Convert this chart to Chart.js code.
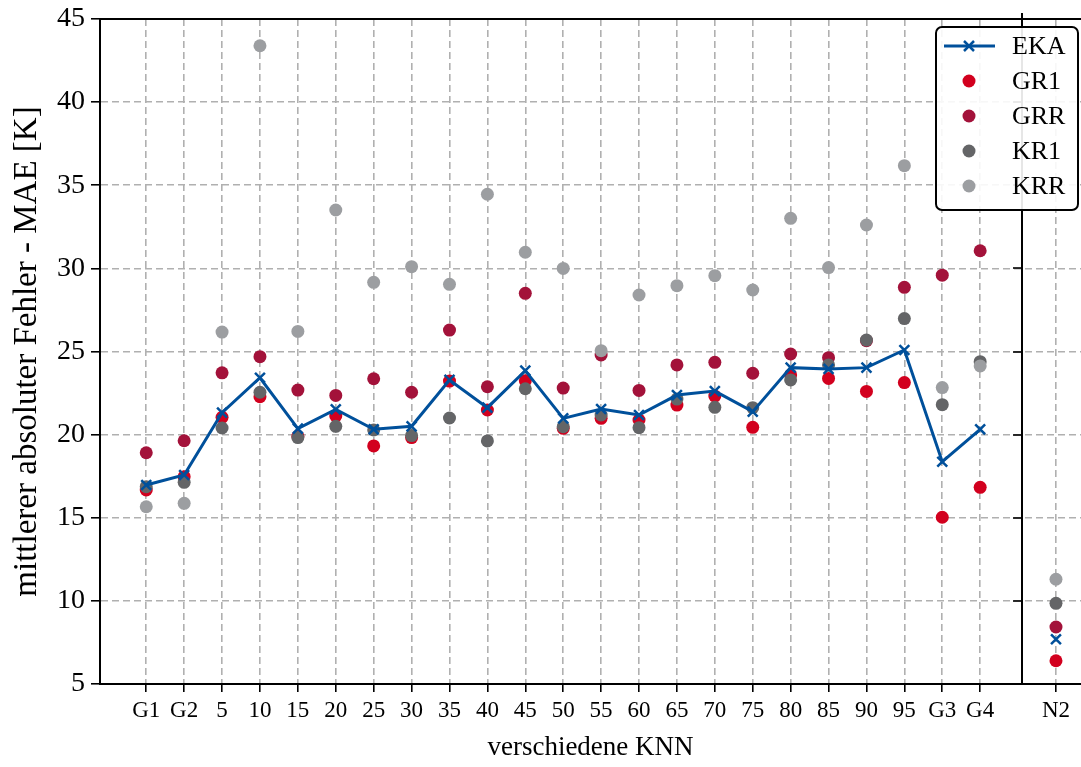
<!DOCTYPE html>
<html>
<head>
<meta charset="utf-8">
<script src="https://cdn.jsdelivr.net/npm/chart.js@4"></script>
<style>
  html, body { margin: 0; padding: 0; background: #ffffff; overflow: hidden; }
  #wrap { width: 1081px; height: 767px; position: relative; }
</style>
</head>
<body>
<div id="wrap"><canvas id="c" width="1081" height="767"></canvas></div>
<script>
// ---- data ----
const categories = ['G1','G2','5','10','15','20','25','30','35','40','45','50','55','60','65','70','75','80','85','90','95','G3','G4','N2'];
const separateCategory = 'N2';   // shown in its own panel after the separator
const EKA = [16.97,17.57,21.32,23.42,20.36,21.52,20.32,20.50,23.29,21.62,23.85,20.98,21.54,21.18,22.38,22.62,21.38,24.03,23.95,24.03,25.09,18.37,20.32,7.69];
const GR1 = [16.67,17.47,21.04,22.28,19.90,21.12,19.32,19.82,23.22,21.48,23.24,20.38,20.98,20.88,21.78,22.32,20.44,23.59,23.38,22.60,23.13,15.03,16.83,6.40];
const GRR = [18.91,19.63,23.72,24.69,22.68,22.36,23.36,22.55,26.29,22.88,28.50,22.80,24.79,22.66,24.19,24.35,23.69,24.85,24.63,25.65,28.86,29.59,31.06,8.43];
const KR1 = [16.87,17.13,20.40,22.55,19.82,20.50,20.28,19.94,21.00,19.62,22.76,20.48,21.18,20.42,22.14,21.64,21.62,23.29,24.19,25.69,26.98,21.80,24.39,9.85];
const KRR = [15.66,15.87,26.17,43.39,26.21,33.51,29.16,30.10,29.04,34.46,30.97,30.00,25.05,28.40,28.96,29.56,28.70,33.01,30.05,32.61,36.18,22.83,24.13,11.30];
const yTicks = [5,10,15,20,25,30,35,40,45];

// ---- positions on the linear x axis (gap before the separate panel) ----
const sepIdx = categories.indexOf(separateCategory);
const xPos = categories.map((c, i) => i < sepIdx ? i : i + 1);
const SEP_X = sepIdx + 0.1;   // vertical separator between panels

function pts(arr, breakLine) {
  const out = [];
  arr.forEach((v, i) => {
    if (breakLine && i === sepIdx) out.push({x: sepIdx, y: null});
    out.push({x: xPos[i], y: v});
  });
  return out;
}

const FONT = "'Liberation Serif', 'Times New Roman', serif";
const C_EKA = '#00509b', C_GR1 = '#d2001e', C_GRR = '#a3123a', C_KR1 = '#646567', C_KRR = '#9c9ea1';

function dotSet(label, arr, color, order) {
  return {
    label, data: pts(arr, false), showLine: false, order,
    pointStyle: 'circle', pointRadius: 6.5, pointHoverRadius: 6.5,
    pointBackgroundColor: color, pointBorderColor: color, pointBorderWidth: 0,
    backgroundColor: color, borderColor: color
  };
}

const datasets = [
  { label: 'EKA', data: pts(EKA, true), order: 0, spanGaps: false,
    borderColor: C_EKA, backgroundColor: C_EKA, borderWidth: 3, tension: 0,
    pointStyle: 'crossRot', pointRadius: 7, pointHoverRadius: 7,
    pointBorderColor: C_EKA, pointBorderWidth: 2.5, pointBackgroundColor: C_EKA },
  dotSet('GR1', GR1, C_GR1, 4),
  dotSet('GRR', GRR, C_GRR, 3),
  dotSet('KR1', KR1, C_KR1, 2),
  dotSet('KRR', KRR, C_KRR, 1)
];

const framePlugin = {
  id: 'frame',
  afterDatasetsDraw(chart) {
    const {ctx, chartArea: a, scales: {x, y}} = chart;
    ctx.save();
    ctx.strokeStyle = '#000'; ctx.lineWidth = 2;
    // top spine
    ctx.beginPath(); ctx.moveTo(a.left, a.top); ctx.lineTo(a.right, a.top); ctx.stroke();
    // separator
    const sx = Math.round(x.getPixelForValue(SEP_X));
    ctx.beginPath(); ctx.moveTo(sx, a.top - 6); ctx.lineTo(sx, a.bottom); ctx.stroke();
    ctx.lineWidth = 1.6;
    yTicks.forEach(v => {
      if (v === yTicks[0] || v === yTicks[yTicks.length-1]) return;
      const py = Math.round(y.getPixelForValue(v));
      ctx.beginPath(); ctx.moveTo(sx - 9, py); ctx.lineTo(sx, py); ctx.stroke();
    });
    ctx.restore();
  },
  afterDraw(chart) {
    // legend
    const {ctx} = chart;
    const L = 936, T = 27, W = 142, H = 183, r = 6;
    ctx.save();
    ctx.fillStyle = 'rgba(255,255,255,0.9)';
    ctx.strokeStyle = '#000'; ctx.lineWidth = 2;
    ctx.beginPath();
    ctx.moveTo(L + r, T); ctx.lineTo(L + W - r, T); ctx.arcTo(L + W, T, L + W, T + r, r);
    ctx.lineTo(L + W, T + H - r); ctx.arcTo(L + W, T + H, L + W - r, T + H, r);
    ctx.lineTo(L + r, T + H); ctx.arcTo(L, T + H, L, T + H - r, r);
    ctx.lineTo(L, T + r); ctx.arcTo(L, T, L + r, T, r);
    ctx.closePath(); ctx.fill(); ctx.stroke();
    ctx.font = "26px " + FONT; ctx.textBaseline = 'middle'; ctx.fillStyle = '#000';
    const order = ['EKA','GR1','GRR','KR1','KRR'];
    order.forEach((lab, k) => {
      const ds = chart.data.datasets.find(d => d.label === lab);
      const cy = 46 + k * 35;
      if (lab === 'EKA') {
        ctx.strokeStyle = ds.borderColor; ctx.lineWidth = 3;
        ctx.beginPath(); ctx.moveTo(944, cy); ctx.lineTo(995, cy); ctx.stroke();
        ctx.lineWidth = 2.5; const s = 5;
        ctx.beginPath(); ctx.moveTo(969 - s, cy - s); ctx.lineTo(969 + s, cy + s);
        ctx.moveTo(969 - s, cy + s); ctx.lineTo(969 + s, cy - s); ctx.stroke();
      } else {
        ctx.fillStyle = ds.pointBackgroundColor;
        ctx.beginPath(); ctx.arc(969, cy, 6.5, 0, Math.PI * 2); ctx.fill();
      }
      ctx.fillStyle = '#000';
      ctx.fillText(lab, 1012, cy + 1);
    });
    ctx.restore();
  }
};

new Chart(document.getElementById('c'), {
  type: 'line',
  data: { datasets },
  options: {
    responsive: false, animation: false, devicePixelRatio: 1,
    layout: { autoPadding: false, padding: { top: 19, right: 0, left: 0, bottom: 0 } },
    plugins: { legend: { display: false }, tooltip: { enabled: false } },
    scales: {
      x: {
        type: 'linear', min: -1.22, max: 24.66,
        afterBuildTicks: s => { s.ticks = xPos.map(v => ({ value: v })); },
        afterFit: s => { s.height = 83; s.paddingLeft = 0; s.paddingRight = 0; },
        ticks: {
          autoSkip: false, maxRotation: 0, padding: 5, color: '#000',
          font: { family: FONT, size: 23 },
          callback: (v) => { const i = xPos.indexOf(v); return i >= 0 ? categories[i] : ''; }
        },
        grid: { color: '#b0b0b0', lineWidth: 1.6, tickColor: '#000', tickWidth: 1.6, tickLength: 8, tickBorderDash: [] },
        border: { display: true, color: '#000', width: 2, dash: [7, 4] },
        title: { display: true, text: 'verschiedene KNN', color: '#000', font: { family: FONT, size: 27 }, padding: { top: 0, bottom: 3 } }
      },
      y: {
        min: 5, max: 45,
        afterBuildTicks: s => { s.ticks = yTicks.map(v => ({ value: v })); },
        afterFit: s => { s.width = 100; s.paddingTop = 0; s.paddingBottom = 0; },
        ticks: { padding: 6, color: '#000', font: { family: FONT, size: 28 } },
        grid: { color: '#b0b0b0', lineWidth: 1.6, tickColor: '#000', tickWidth: 1.6, tickLength: 9, tickBorderDash: [] },
        border: { display: true, color: '#000', width: 2, dash: [7, 4] },
        title: { display: true, text: 'mittlerer absoluter Fehler - MAE [K]', color: '#000', font: { family: FONT, size: 33 }, padding: { top: 8, bottom: 0 } }
      }
    }
  },
  plugins: [framePlugin]
});
</script>
</body>
</html>
